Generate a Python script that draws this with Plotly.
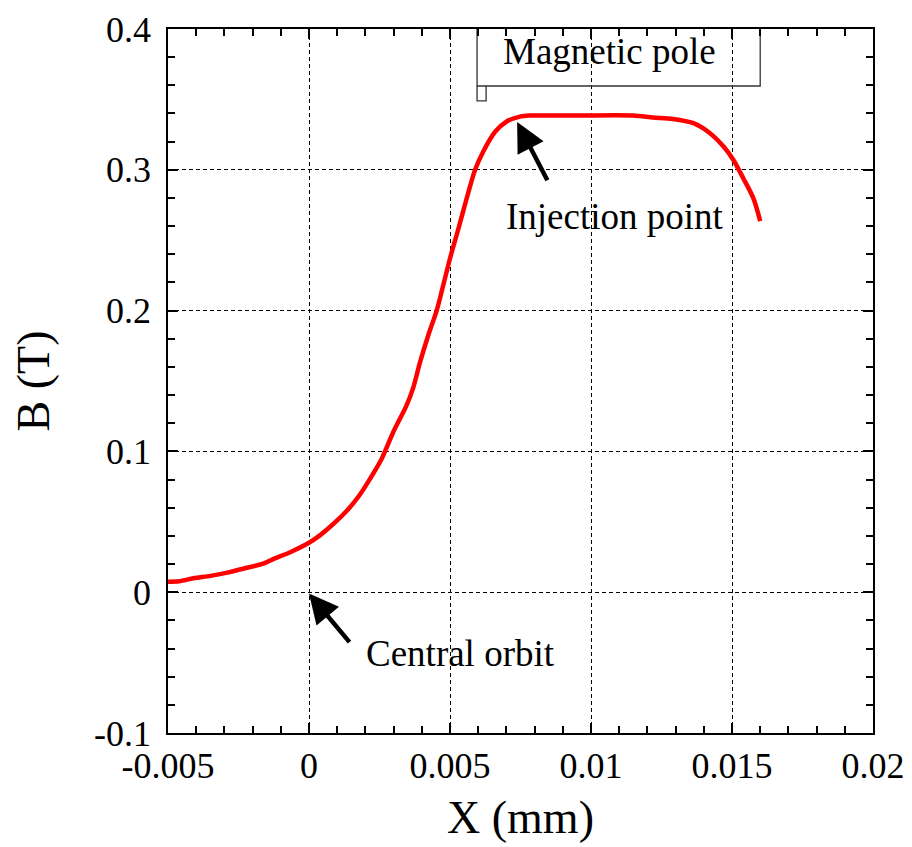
import plotly.graph_objects as go

# Measured field profile across the gap
x_pos = [-0.005, -0.0046, -0.0041, -0.0035, -0.0029, -0.0023, -0.0016, -0.00127,
         -0.00067, 0.0, 0.00035, 0.00083, 0.0013, 0.00177, 0.00213, 0.00256,
         0.00299, 0.00346, 0.0037, 0.00394, 0.00423, 0.00453, 0.00476, 0.005,
         0.0053, 0.00559, 0.00589, 0.00618, 0.0066, 0.00701, 0.00748, 0.00784,
         0.0095, 0.0115, 0.0122, 0.0129, 0.01363, 0.01422, 0.0147, 0.01505,
         0.0154, 0.01576, 0.016]
b_field = [0.0075, 0.0078, 0.0099, 0.0116, 0.0139, 0.0168, 0.0205, 0.0235,
           0.0284, 0.0351, 0.0398, 0.0479, 0.0569, 0.0683, 0.0794, 0.094,
           0.1138, 0.1327, 0.1455, 0.1635, 0.1825, 0.2002, 0.218, 0.237,
           0.2583, 0.2796, 0.30, 0.313, 0.327, 0.3343, 0.3378, 0.3385,
           0.3385, 0.3385, 0.3371, 0.3361, 0.3331, 0.326, 0.3165, 0.307,
           0.294, 0.2797, 0.2636]

x_ticks = [-0.005, 0, 0.005, 0.01, 0.015, 0.02]
x_tick_text = ["-0.005", "0", "0.005", "0.01", "0.015", "0.02"]
y_ticks = [-0.1, 0, 0.1, 0.2, 0.3, 0.4]
y_tick_text = ["-0.1", "0", "0.1", "0.2", "0.3", "0.4"]

# Pole region marker (x extent, y extent) and the small tab under its left edge
pole_x = [0.00596, 0.016]
pole_y = [0.3595, 0.4]
tab_x = [0.00596, 0.00628]
tab_y = [0.349, 0.3595]

FONT = "Liberation Serif, Times New Roman, serif"
LABEL_SIZE = 37

fig = go.Figure()
fig.add_trace(go.Scatter(x=x_pos, y=b_field, mode="lines",
                         line=dict(color="#ff0000", width=4.5, shape="spline", smoothing=0.8),
                         showlegend=False, hoverinfo="skip"))

# Magnetic pole box (open at the top, which is the frame)
fig.add_trace(go.Scatter(x=[pole_x[0], pole_x[0], pole_x[1], pole_x[1]],
                         y=[pole_y[1], pole_y[0], pole_y[0], pole_y[1]],
                         mode="lines", line=dict(color="#333333", width=1.3),
                         showlegend=False, hoverinfo="skip"))
fig.add_trace(go.Scatter(x=[tab_x[0], tab_x[0], tab_x[1], tab_x[1]],
                         y=[tab_y[1], tab_y[0], tab_y[0], tab_y[1]],
                         mode="lines", line=dict(color="#333333", width=1.3),
                         showlegend=False, hoverinfo="skip"))

fig.add_annotation(x=0.01067, y=0.3837, text="Magnetic pole",
                   showarrow=False, font=dict(family=FONT, size=LABEL_SIZE, color="black"))

# Pointer annotations
fig.add_annotation(x=0.00738, y=0.334, ax=0.00848, ay=0.2915, axref="x", ayref="y",
                   text="", showarrow=True, arrowhead=2, arrowsize=1.3, arrowwidth=4.5,
                   arrowcolor="black")
fig.add_annotation(x=0.01085, y=0.267, text="Injection point", showarrow=False,
                   font=dict(family=FONT, size=LABEL_SIZE, color="black"))
fig.add_annotation(x=0.0, y=-0.001, ax=0.00148, ay=-0.0365, axref="x", ayref="y",
                   text="", showarrow=True, arrowhead=2, arrowsize=1.3, arrowwidth=4.5,
                   arrowcolor="black")
fig.add_annotation(x=0.00536, y=-0.0435, text="Central orbit", showarrow=False,
                   font=dict(family=FONT, size=LABEL_SIZE, color="black"))

axis_common = dict(
    showline=True, linecolor="black", linewidth=1.8, mirror="allticks",
    ticks="inside", ticklen=10, tickwidth=1.6, tickcolor="black",
    showgrid=True, gridcolor="black", gridwidth=1, griddash="4px,3px",
    zeroline=False, automargin=False,
    tickfont=dict(family=FONT, size=36, color="black"),
)
minor_common = dict(tickmode="linear", ticks="inside", ticklen=7, tickwidth=1.5,
                    tickcolor="black", showgrid=False)

fig.update_xaxes(range=[-0.005, 0.02], tickvals=x_ticks, ticktext=x_tick_text,
                 minor=dict(tick0=-0.005, dtick=0.001, **minor_common),
                 title=dict(text="X (mm)", font=dict(family=FONT, size=46, color="black"), standoff=16),
                 **axis_common)
fig.update_yaxes(range=[-0.1, 0.4], tickvals=y_ticks, ticktext=y_tick_text,
                 ticklabelstandoff=8,
                 minor=dict(tick0=-0.1, dtick=0.02, **minor_common),
                 title=dict(text="B (T)", font=dict(family=FONT, size=46, color="black"), standoff=30),
                 **axis_common)

fig.update_layout(width=912, height=847, plot_bgcolor="white", paper_bgcolor="white",
                  margin=dict(l=168, r=39, t=29, b=114), showlegend=False)

fig.write_html("out.html")
